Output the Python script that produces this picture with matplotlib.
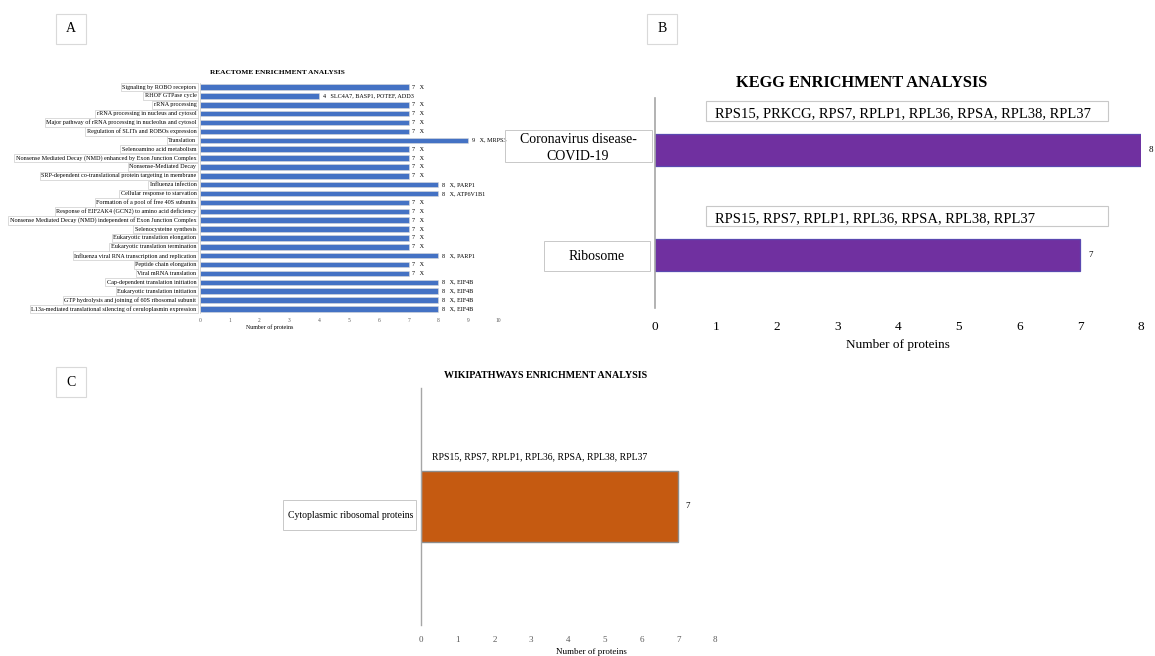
"""Three-panel pathway enrichment figure: Reactome, KEGG and WikiPathways."""

import matplotlib
matplotlib.use("Agg")
import matplotlib.pyplot as plt
from matplotlib.patches import Rectangle

plt.rcParams["font.family"] = ["Liberation Serif", "DejaVu Serif"]

W, H = 1155, 656

# ---- Reactome (panel A), listed top to bottom
reactome_terms = [
    "Signaling by ROBO receptors",
    "RHOF GTPase cycle",
    "rRNA processing",
    "rRNA processing in nucleus and cytosol",
    "Major pathway of rRNA processing in nucleolus and cytosol",
    "Regulation of SLITs and ROBOs expression",
    "Translation",
    "Selenoamino acid metabolism",
    "Nonsense Mediated Decay (NMD) enhanced by Exon Junction Complex",
    "Nonsense-Mediated Decay",
    "SRP-dependent co-translational protein targeting in membrane",
    "Influenza infection",
    "Cellular response to starvation",
    "Formation of a pool of free 40S subunits",
    "Response of EIF2AK4 (GCN2) to amino acid deficiency",
    "Nonsense Mediated Decay (NMD) independent of Exon Junction Complex",
    "Selenocysteine synthesis",
    "Eukaryotic translation elongation",
    "Eukaryotic translation termination",
    "Influenza viral RNA transcription and replication",
    "Peptide chain elongation",
    "Viral mRNA translation",
    "Cap-dependent translation initiation",
    "Eukaryotic translation initiation",
    "GTP hydrolysis and joining of 60S ribosomal subunit",
    "L13a-mediated translational silencing of ceruloplasmin expression",
]
reactome_counts = [7, 4, 7, 7, 7, 7, 9, 7, 7, 7, 7, 8, 8, 7, 7, 7, 7, 7, 7, 8, 7, 7, 8, 8, 8, 8]
reactome_genes = [
    "X", "SLC4A7, BASP1, POTEF, ADD3", "X", "X", "X", "X", "X, MRPS3", "X",
    "X", "X", "X", "X, PARP1", "X, ATP6V1B1", "X", "X", "X", "X", "X", "X",
    "X, PARP1", "X", "X", "X, EIF4B", "X, EIF4B", "X, EIF4B", "X, EIF4B",
]

# ---- KEGG (panel B), bottom to top
kegg_terms = ["Ribosome", "Coronavirus disease-\nCOVID-19"]
kegg_counts = [7, 8]
kegg_genes = [
    "RPS15, RPS7, RPLP1, RPL36, RPSA, RPL38, RPL37",
    "RPS15, PRKCG, RPS7, RPLP1, RPL36, RPSA, RPL38, RPL37",
]

# ---- WikiPathways (panel C)
wiki_terms = ["Cytoplasmic ribosomal proteins"]
wiki_counts = [7]
wiki_genes = ["RPS15, RPS7, RPLP1, RPL36, RPSA, RPL38, RPL37"]


def px_axes(fig, x0, y0, x1, y1):
    """Add axes given pixel box (top-left origin)."""
    return fig.add_axes([x0 / W, 1 - y1 / H, (x1 - x0) / W, (y1 - y0) / H])


def fig_box(fig, x0, y0, x1, y1, color="#c8c8c8", lw=0.7):
    fig.add_artist(Rectangle((x0 / W, 1 - y1 / H), (x1 - x0) / W, (y1 - y0) / H,
                             transform=fig.transFigure, fill=False,
                             edgecolor=color, linewidth=lw))


def strip(ax, spine_color="#a6a6a6", spine_lw=1.0):
    for side in ("top", "right", "bottom"):
        ax.spines[side].set_visible(False)
    ax.spines["left"].set_color(spine_color)
    ax.spines["left"].set_linewidth(spine_lw)
    ax.set_yticks([])
    ax.tick_params(axis="x", length=0)
    ax.patch.set_alpha(0)


fig = plt.figure(figsize=(W / 100, H / 100), dpi=100)

# panel letters
for letter, (x0, y0) in {"A": (56, 14), "B": (647, 14), "C": (56, 367)}.items():
    fig_box(fig, x0, y0, x0 + 30, y0 + 30, color="#d9d9d9", lw=0.8)
    fig.text((x0 + 15) / W, 1 - (y0 + 15) / H, letter, ha="center", va="center", fontsize=10)

# ---- panel A
axA = px_axes(fig, 200, 82.6, 498, 313.4)
strip(axA, spine_color="#d0d0d0", spine_lw=0.6)
ypos = list(range(len(reactome_terms)))
axA.barh(ypos, reactome_counts, height=0.62, color="#4472C4",
         edgecolor="#d9d9d9", linewidth=0.4)
axA.set_xlim(0, 10)
axA.set_ylim(len(reactome_terms) - 0.5, -0.5)
axA.set_xticks(range(0, 11))
axA.tick_params(axis="x", labelsize=4, labelcolor="#595959", pad=3)
for y, term, n, g in zip(ypos, reactome_terms, reactome_counts, reactome_genes):
    axA.text(-0.12, y, term, ha="right", va="center", fontsize=4.4,
             bbox=dict(boxstyle="square,pad=0.25", fc="white", ec="#cccccc", lw=0.5))
    axA.text(n + 0.12, y, f"{n}   {g}", ha="left", va="center", fontsize=4.4)
fig.text(270 / W, 1 - 327 / H, "Number of proteins", ha="center", va="center", fontsize=4.3)
fig.text(277 / W, 1 - 72 / H, "REACTOME ENRICHMENT ANALYSIS", ha="center", va="center",
         fontsize=5.3, fontweight="bold")

# ---- panel B
axB = px_axes(fig, 655, 97.5, 1141, 307.5)
strip(axB, spine_color="#a6a6a6", spine_lw=1.2)
axB.barh(range(len(kegg_terms)), kegg_counts, height=0.3, color="#7030A0",
         edgecolor="#5a48b0", linewidth=0.9)
axB.set_xlim(0, 8)
axB.set_ylim(-0.5, len(kegg_terms) - 0.5)
axB.set_xticks(range(0, 9))
axB.tick_params(axis="x", labelsize=9.5, pad=10)
for y, n, g in zip(range(len(kegg_terms)), kegg_counts, kegg_genes):
    axB.text(n + 0.13, y, str(n), ha="left", va="center", fontsize=6.5)
    axB.add_patch(Rectangle((0.84, y + 0.276), 6.61, 0.19, fill=False,
                            edgecolor="#c8c8c8", linewidth=0.8, clip_on=False))
    axB.text(0.99, y + 0.35, g, ha="left", va="center", fontsize=10.5)
# category label boxes
fig_box(fig, 505, 130, 652, 162)
fig.text(578 / W, 1 - 148 / H, kegg_terms[1], ha="center", va="center", fontsize=10,
         linespacing=1.35)
fig_box(fig, 544, 241, 650, 271)
fig.text(597 / W, 1 - 256 / H, kegg_terms[0], ha="center", va="center", fontsize=10)
fig.text(898 / W, 1 - 345 / H, "Number of proteins", ha="center", va="center", fontsize=9.5)
fig.text(862 / W, 1 - 83 / H, "KEGG ENRICHMENT ANALYSIS", ha="center", va="center",
         fontsize=11.8, fontweight="bold")

# ---- panel C
axC = px_axes(fig, 421, 388, 715, 625)
strip(axC, spine_color="#a6a6a6", spine_lw=1.0)
axC.barh(range(len(wiki_terms)), wiki_counts, height=0.3, color="#C55A11",
         edgecolor="#8c8c8c", linewidth=1.0)
axC.set_xlim(0, 8)
axC.set_ylim(-0.5, len(wiki_terms) - 0.5)
axC.set_xticks(range(0, 9))
axC.tick_params(axis="x", labelsize=6.5, labelcolor="#595959", pad=8)
for y, n, g in zip(range(len(wiki_terms)), wiki_counts, wiki_genes):
    axC.text(n + 0.2, y, str(n), ha="left", va="center", fontsize=6.5)
    axC.text(0.3, y + 0.21, g, ha="left", va="center", fontsize=7)
fig_box(fig, 283, 500, 416, 530)
fig.text(351 / W, 1 - 515 / H, wiki_terms[0], ha="center", va="center", fontsize=7)
fig.text(591 / W, 1 - 652 / H, "Number of proteins", ha="center", va="center", fontsize=6.5)
fig.text(546 / W, 1 - 375 / H, "WIKIPATHWAYS ENRICHMENT ANALYSIS", ha="center", va="center",
         fontsize=7.2, fontweight="bold")

fig.savefig("out.png", dpi=100, facecolor="white")
